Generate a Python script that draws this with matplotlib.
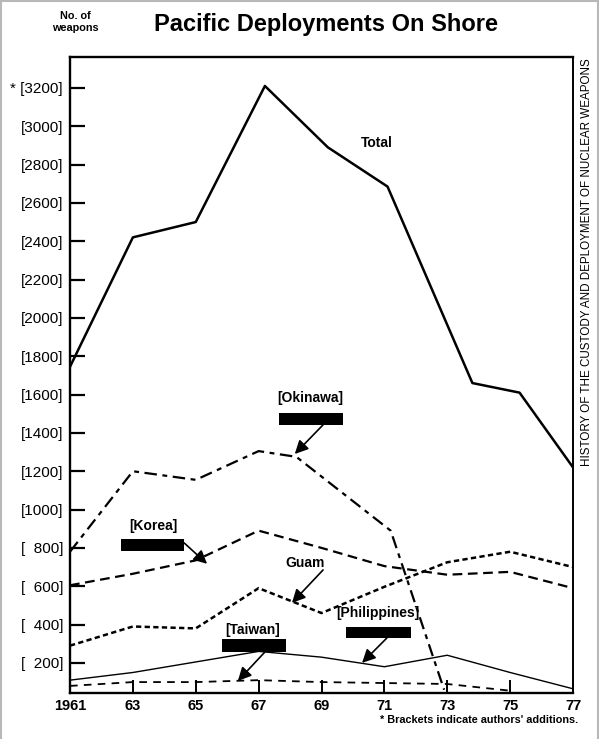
import matplotlib
matplotlib.use("Agg")
import matplotlib.pyplot as plt
from matplotlib.patches import Rectangle
from matplotlib.lines import Line2D

plt.rcParams["font.family"] = ["Liberation Sans", "DejaVu Sans"]
plt.rcParams["lines.scale_dashes"] = False

# values (number of weapons)
years = [1961, 1963, 1965, 1967, 1969, 1971, 1973, 1975, 1977]
total_years = [1961, 1963, 1965, 1967.2, 1969.2, 1971.1, 1973.8, 1975.3, 1977]
total = [1745, 2420, 2500, 3210, 2890, 2685, 1660, 1610, 1220]
okinawa_years = [1961, 1963, 1965, 1967, 1968.2, 1971.2, 1972.9]
okinawa = [780, 1200, 1155, 1305, 1275, 890, 60]
korea = [605, 665, 735, 890, 800, 705, 660, 675, 590]
guam = [290, 390, 380, 590, 460, 597, 725, 780, 700]
philippines = [110, 150, 205, 260, 230, 180, 240, 150, 65]
taiwan_years = [1961, 1963, 1965, 1967, 1969, 1971, 1973, 1975]
taiwan = [80, 100, 100, 110, 100, 95, 90, 55]

yticks = list(range(200, 3400, 200))
ytick_labels = ["[  200]", "[  400]", "[  600]", "[  800]", "[1000]", "[1200]",
                "[1400]", "[1600]", "[1800]", "[2000]", "[2200]", "[2400]",
                "[2600]", "[2800]", "[3000]", "* [3200]"]
xticks = [1961, 1963, 1965, 1967, 1969, 1971, 1973, 1975, 1977]
xtick_labels = ["1961", "63", "65", "67", "69", "71", "73", "75", "77"]

W, H = 599, 739
fig = plt.figure(figsize=(W / 100, H / 100), dpi=100)
ax = fig.add_axes([70 / W, 46 / H, 503 / W, 636 / H])

ax.plot(total_years, total, "-", color="black", lw=1.8)
ax.plot(okinawa_years, okinawa, color="black", lw=1.6, dashes=(9, 4, 3.5, 4))
ax.plot(years, korea, color="black", lw=1.6, dashes=(7, 4))
ax.plot(years, guam, color="black", lw=1.8, dashes=(3.8, 2.4))
ax.plot(years, philippines, "-", color="black", lw=1.0)
ax.plot(taiwan_years, taiwan, color="black", lw=1.3, dashes=(5.5, 4.5))

ax.set_xlim(1961, 1977)
ax.set_ylim(43, 3361)
ax.set_yticks(yticks)
ax.set_yticklabels(ytick_labels, fontsize=11)
ax.set_xticks(xticks)
ax.set_xticklabels(xtick_labels, fontsize=10.5, fontweight="bold")
ax.tick_params(axis="y", direction="in", length=11, width=1.6, pad=5)
ax.tick_params(axis="x", direction="in", length=9.5, width=1.4, pad=4)
for side in ["left", "bottom", "top"]:
    ax.spines[side].set_linewidth(1.7)
ax.spines["right"].set_linewidth(1.4)

# labels with black bars and arrows
arrow = dict(arrowstyle="-|>", color="black", lw=1.2, mutation_scale=20,
             shrinkA=0, shrinkB=0)
callouts = [
    # label, label xy, bar (x0, y0, x1, y1), arrow start, arrow end
    ("[Okinawa]", (1968.63, 1583), (1967.65, 1442, 1969.68, 1504),
     (1969.05, 1442), (1968.15, 1290)),
    ("[Korea]", (1963.64, 915), (1962.62, 784, 1964.63, 847),
     (1964.63, 826), (1965.36, 717)),
    ("[Philippines]", (1970.8, 461), (1969.78, 330, 1971.85, 388),
     (1971.08, 330), (1970.29, 200)),
    ("[Taiwan]", (1966.82, 372), (1965.83, 257, 1967.87, 325),
     (1967.2, 257), (1966.34, 106)),
]
for label, lxy, bar, a0, a1 in callouts:
    ax.text(lxy[0], lxy[1], label, ha="center", va="center", fontsize=10,
            fontweight="bold")
    ax.add_patch(Rectangle((bar[0], bar[1]), bar[2] - bar[0], bar[3] - bar[1],
                           facecolor="black", edgecolor="none"))
    ax.annotate("", xy=a1, xytext=a0, arrowprops=arrow)

ax.text(1968.47, 722, "Guam", ha="center", va="center", fontsize=10,
        fontweight="bold")
ax.annotate("", xy=(1968.06, 513), xytext=(1969.05, 685), arrowprops=arrow)
ax.text(1970.77, 2913, "Total", ha="center", va="center", fontsize=10,
        fontweight="bold")

fig.text(75 / W, 1 - 22 / H, "No. of\nweapons", ha="center", va="center",
         fontsize=7.8, fontweight="bold", linespacing=1.35)
fig.text(326 / W, 1 - 24 / H, "Pacific Deployments On Shore", ha="center",
         va="center", fontsize=17, fontweight="bold")
fig.text(587 / W, 1 - 262 / H,
         "HISTORY OF THE CUSTODY AND DEPLOYMENT OF NUCLEAR WEAPONS",
         rotation=90, ha="center", va="center", fontsize=8.4)
fig.text(578 / W, 1 - 720 / H, "* Brackets indicate authors' additions.",
         ha="right", va="center", fontsize=7.8, fontweight="bold")

# grey frame of the scanned page
for xs, ys in [([0.5 / W, 0.5 / W], [0, 1 - 0.5 / H]),
               ([0.5 / W, 1 - 1.5 / W], [1 - 0.5 / H, 1 - 0.5 / H]),
               ([1 - 1.5 / W, 1 - 1.5 / W], [0, 1 - 0.5 / H])]:
    fig.add_artist(Line2D(xs, ys, color="#b8b8b8", lw=1.5,
                          transform=fig.transFigure))

fig.savefig("out.png", dpi=100)
